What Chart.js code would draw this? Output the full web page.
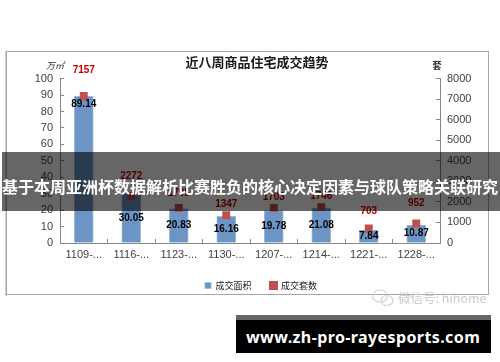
<!DOCTYPE html>
<html>
<head>
<meta charset="utf-8">
<style>
  html, body { margin: 0; padding: 0; background: #fff; }
  #wrap { position: relative; width: 500px; height: 362px; overflow: hidden; }
  #chart { position: absolute; left: 0; top: 0; }
  .band { position: absolute; left: 2px; top: 152px; width: 498px; height: 59px; background: rgba(0,0,0,0.6); }
  .band span { position: absolute; left: 0; top: 22px; white-space: nowrap; color: #fff;
    font: bold 16px/24px "Noto Sans CJK SC"; }
  .mark { position: absolute; left: 398px; top: 290px; color: #c8c8c8; white-space: nowrap;
    font: 12.5px/16px "Noto Sans CJK SC"; }
  .mark-icon { position: absolute; left: 371px; top: 288px; }
  .banner { position: absolute; left: 236px; top: 315px; width: 255px; height: 38px; background: #000;
    border-top: 5px solid #666; box-sizing: border-box; }
  .banner span { position: absolute; left: 10px; top: 5px; white-space: nowrap; color: #fff;
    font: bold 16px/24px "Noto Sans"; letter-spacing: 0.4px; }
</style>
</head>
<body>
<div id="wrap">
  <canvas id="chart" width="500" height="362"></canvas>
  <div class="band"><span>基于本周亚洲杯数据解析比赛胜负的核心决定因素与球队策略关联研究</span></div>
  <svg class="mark-icon" width="24" height="20" viewBox="0 0 24 20" fill="none" stroke="#d4d4d4" stroke-width="1.2">
    <ellipse cx="9" cy="8" rx="7.5" ry="6"/>
    <ellipse cx="16" cy="12.5" rx="6" ry="5"/>
  </svg>
  <div class="mark">微信号: hihome</div>
  <div class="banner"><span>www.zh-pro-rayesports.com</span></div>
</div>
<script src="https://cdn.jsdelivr.net/npm/chart.js@4"></script>
<script>
(function () {
  "use strict";

  const categories = ["1109-...", "1116-...", "1123-...", "1130-...", "1207-...", "1214-...", "1221-...", "1228-..."];
  const areaValues = [89.14, 30.05, 20.83, 16.16, 19.78, 21.08, 7.84, 10.87];
  const countValues = [7157, 2272, 1705, 1347, 1703, 1746, 703, 952];
  const chartTitle = "近八周商品住宅成交趋势";
  const areaLabel = "成交面积";
  const countLabel = "成交套数";

  // The source chart's data labels were hand dragged, so each one has its own gap (px).
  const COUNT_LABEL_LIFT = [26, 20, 15, 11, 11, 11, 17, 20];
  const AREA_LABEL_DROP = [8, 25, 16, 13, 16, 17, 6, 8];

  const COLORS = {
    bar: "#6c95c6",
    barEdge: "#9fbadb",
    marker: "#c0504d",
    countText: "#c00000",
    axis: "#868686",
    tick: "#404040",
    frame: "#a6a6a6",
    frameLeft: "#d0d0d0",
  };

  const CJK = '"Noto Sans CJK SC"';
  const LATIN = '"Liberation Sans"';

  // Outer frame plus the two unit captions above the axes.
  const framePlugin = {
    id: "frame",
    afterLayout: function (chart) {
      // legend sits a little right of the title in the source
      chart.legend.left += 4;
      chart.legend.right += 4;
    },
    beforeDraw: function (chart) {
      const c = chart.ctx;
      c.save();
      c.fillStyle = COLORS.frameLeft;
      c.fillRect(5, 51, 2, 245);
      c.strokeStyle = COLORS.frame;
      c.lineWidth = 1;
      c.strokeRect(6.5, 51.5, 482, 243);
      c.restore();
    },
    afterDraw: function (chart) {
      const c = chart.ctx;
      c.save();
      c.fillStyle = "#333";
      c.textAlign = "center";
      c.textBaseline = "middle";
      c.font = "italic 9px " + CJK;
      c.fillText("万㎡", 55, 66);
      c.font = "bold 9px " + CJK;
      c.fillText("套", 437, 66);
      c.restore();
    },
  };

  const labelPlugin = {
    id: "pointLabels",
    afterDatasetsDraw: function (chart) {
      const c = chart.ctx;
      const bars = chart.getDatasetMeta(0).data;
      const points = chart.getDatasetMeta(1).data;
      c.save();
      c.textAlign = "center";
      c.textBaseline = "middle";
      c.font = "bold 10px " + LATIN;
      c.fillStyle = "#000";
      bars.forEach(function (bar, i) {
        c.fillText(areaValues[i].toFixed(2), bar.x, bar.y + AREA_LABEL_DROP[i]);
      });
      c.fillStyle = COLORS.countText;
      points.forEach(function (pt, i) {
        c.fillText(String(countValues[i]), pt.x, pt.y - COUNT_LABEL_LIFT[i]);
      });
      c.restore();
    },
  };

  function axisGrid() {
    return { drawOnChartArea: false, color: COLORS.axis, tickLength: -4, tickColor: COLORS.axis };
  }

  function plainTick(v) { return String(v); }

  new Chart(document.getElementById("chart").getContext("2d"), {
    data: {
      labels: categories,
      datasets: [
        {
          type: "bar",
          label: areaLabel,
          data: areaValues,
          yAxisID: "y",
          order: 2,
          backgroundColor: COLORS.bar,
          borderColor: COLORS.barEdge,
          borderWidth: 1,
          barThickness: 19,
        },
        {
          type: "line",
          label: countLabel,
          data: countValues,
          yAxisID: "y2",
          order: 1,
          showLine: false,
          backgroundColor: COLORS.marker,
          borderColor: COLORS.marker,
          pointStyle: "rect",
          pointRadius: 5.6,
          pointBorderWidth: 0,
        },
      ],
    },
    options: {
      responsive: false,
      animation: false,
      layout: { padding: { left: 24, right: 10, top: 54, bottom: 62 } },
      scales: {
        x: {
          grid: axisGrid(),
          border: { color: COLORS.axis },
          ticks: { color: COLORS.tick, font: { family: LATIN, size: 11 }, maxRotation: 0, autoSkip: false, padding: 9 },
          afterFit: function (s) { s.height = 19; },
        },
        y: {
          position: "left",
          min: 0,
          max: 100,
          grid: axisGrid(),
          border: { color: COLORS.axis },
          ticks: { stepSize: 10, autoSkip: false, callback: plainTick, color: COLORS.tick, font: { family: LATIN, size: 11 }, padding: 11 },
          afterFit: function (s) { s.width = 36; },
        },
        y2: {
          position: "right",
          min: 0,
          max: 8000,
          grid: axisGrid(),
          border: { color: COLORS.axis },
          ticks: { stepSize: 1000, autoSkip: false, callback: plainTick, color: COLORS.tick, font: { family: LATIN, size: 11 }, padding: 11 },
          afterFit: function (s) { s.width = 50; },
        },
      },
      plugins: {
        tooltip: { enabled: false },
        title: {
          display: true,
          text: chartTitle,
          color: "#1a1a1a",
          font: { family: CJK, size: 13, weight: "bold" },
          padding: { top: 0, bottom: 9 },
        },
        legend: {
          position: "bottom",
          labels: {
            boxWidth: 6,
            boxHeight: 6,
            padding: 19,
            color: "#222",
            font: { family: CJK, size: 9 },
            sort: function (a, b) { return a.datasetIndex - b.datasetIndex; },
          },
        },
      },
    },
    plugins: [framePlugin, labelPlugin],
  });
})();
</script>
</body>
</html>
